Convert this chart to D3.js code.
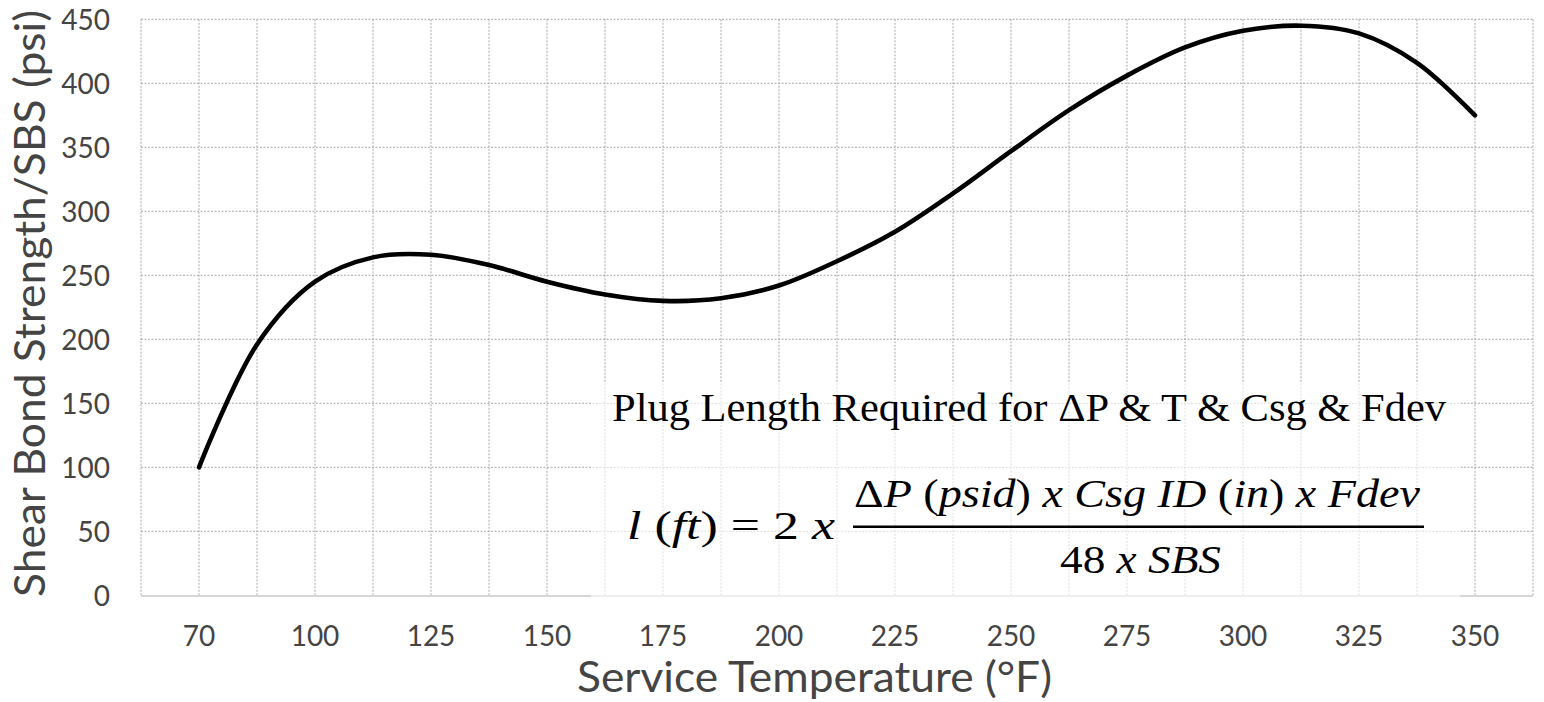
<!DOCTYPE html>
<html><head><meta charset="utf-8">
<script src="https://cdn.jsdelivr.net/npm/d3@7"></script>
<style>body{margin:0;background:#fff;} svg{display:block;}</style>
</head><body>
<svg id="chart" width="1544" height="702"></svg>
<script>
// ---- data ----
const categories = ["70","100","125","150","175","200","225","250","275","300","325","350"];
const yTicks = [0,50,100,150,200,250,300,350,400,450];
// curve at every category centre and halfway between (category index units)
const samplePos = [0,0.5,1,1.5,2,2.5,3,3.5,4,4.5,5,5.5,6,6.5,7,7.5,8,8.5,9,9.5,10,10.5,11];
const sbsValues = [100,196,245,264,266,258,245,235,230,232,242,261,284,314,347,379,406,428,441,445,439,416,375];
const yTitle = "Shear Bond Strength/SBS (psi)";
const xTitle = "Service Temperature (°F)";
const noteTitle = "Plug Length Required for ΔP & T & Csg & Fdev";
// formula pieces: [text, italic?]
const formulaLeft = [["l",1],[" (",0],["ft",1],[") = 2 ",0],["x",1]];
const formulaNum = [["Δ",0],["P",1],[" (",0],["psid",1],[") ",0],["x",1],[" ",0],["Csg",1],[" ",0],["ID",1],[" (",0],["in",1],[") ",0],["x",1],[" ",0],["Fdev",1]];
const formulaDen = [["48 ",0],["x",1],[" ",0],["SBS",1]];

// ---- layout ----
const svg = d3.select("#chart");
const L = 141, R = 1533, T = 19.3, B = 595.3;
const xBand = d3.scaleBand().domain(categories).range([L, R]).padding(0);
const xPos = d3.scaleLinear().domain([-0.5, categories.length - 0.5]).range([L, R]);
const y = d3.scaleLinear().domain([0, 450]).range([B, T]);
const textColor = "#444";
const sans = "Lato, 'Open Sans', sans-serif";
const serif = "'Liberation Serif', 'DejaVu Serif', serif";

// gridlines
const grid = svg.append("g");
grid.selectAll("line.h").data(yTicks.filter(d => d > 0)).join("line")
  .attr("x1", L).attr("x2", R).attr("y1", d => y(d)).attr("y2", d => y(d))
  .attr("stroke", "#a8a8a8").attr("stroke-width", 1).attr("stroke-dasharray", "2,1.5");
const vgrid = d3.range(-0.5, categories.length - 0.5 + 0.01, 0.5);
grid.selectAll("line.v").data(vgrid).join("line")
  .attr("x1", d => xPos(d)).attr("x2", d => xPos(d)).attr("y1", T).attr("y2", B)
  .attr("stroke", "#a8a8a8").attr("stroke-width", 1).attr("stroke-dasharray", "2,1.5");

// bottom axis line
svg.append("line").attr("x1", L).attr("x2", R).attr("y1", B + 0.8).attr("y2", B + 0.8)
  .attr("stroke", "#d6d6d6").attr("stroke-width", 2);

// semi-transparent white box behind the note
svg.append("rect").attr("x", 591).attr("y", 382).attr("width", 869).attr("height", 218)
  .attr("fill", "#fff").attr("fill-opacity", 0.62);

// axes labels
const ax = svg.append("g").attr("transform", `translate(0,${B})`)
  .call(d3.axisBottom(xBand).tickSize(0).tickPadding(31));
ax.select(".domain").remove();
ax.selectAll("text").attr("font-family", sans).attr("font-size", 28).attr("fill", textColor);

const ay = svg.append("g").attr("transform", `translate(${L},0)`)
  .call(d3.axisLeft(y).tickValues(yTicks).tickSize(0).tickPadding(31));
ay.select(".domain").remove();
ay.selectAll("text").attr("font-family", sans).attr("font-size", 28).attr("fill", textColor).attr("dy", "0.36em");

// axis titles
svg.append("text").text(xTitle)
  .attr("x", 814.5).attr("y", 691.7).attr("text-anchor", "middle")
  .attr("font-family", sans).attr("font-size", 42).attr("fill", textColor)
  .attr("textLength", 475).attr("lengthAdjust", "spacingAndGlyphs");
svg.append("text").text(yTitle)
  .attr("transform", "translate(45,303.5) rotate(-90)").attr("text-anchor", "middle")
  .attr("font-family", sans).attr("font-size", 42).attr("fill", textColor)
  .attr("textLength", 587).attr("lengthAdjust", "spacingAndGlyphs");

// curve
const pts = samplePos.map((p, i) => ({p, v: sbsValues[i]}));
svg.append("path").datum(pts)
  .attr("d", d3.line().x(d => xPos(d.p)).y(d => y(d.v)).curve(d3.curveCatmullRom.alpha(0.5)))
  .attr("fill", "none").attr("stroke", "#000").attr("stroke-width", 4.6)
  .attr("stroke-linecap", "round").attr("stroke-linejoin", "round");

// note text
svg.append("text").text(noteTitle)
  .attr("x", 612).attr("y", 420.7).attr("font-family", serif).attr("font-size", 40).attr("fill", "#000")
  .attr("textLength", 834).attr("lengthAdjust", "spacingAndGlyphs");

function formula(parts, x, yy, len) {
  const t = svg.append("text").attr("x", x).attr("y", yy)
    .attr("font-family", serif).attr("font-size", 40).attr("fill", "#000")
    .attr("textLength", len).attr("lengthAdjust", "spacingAndGlyphs")
    .style("white-space", "pre");
  parts.forEach(([s, it]) => t.append("tspan").text(s).attr("font-style", it ? "italic" : "normal"));
}
formula(formulaLeft, 627, 539.3, 208);
formula(formulaNum, 854, 507, 566);
formula(formulaDen, 1060, 573, 161);
svg.append("line").attr("x1", 853).attr("x2", 1424).attr("y1", 526.7).attr("y2", 526.7)
  .attr("stroke", "#000").attr("stroke-width", 2.6);
</script>
</body></html>
